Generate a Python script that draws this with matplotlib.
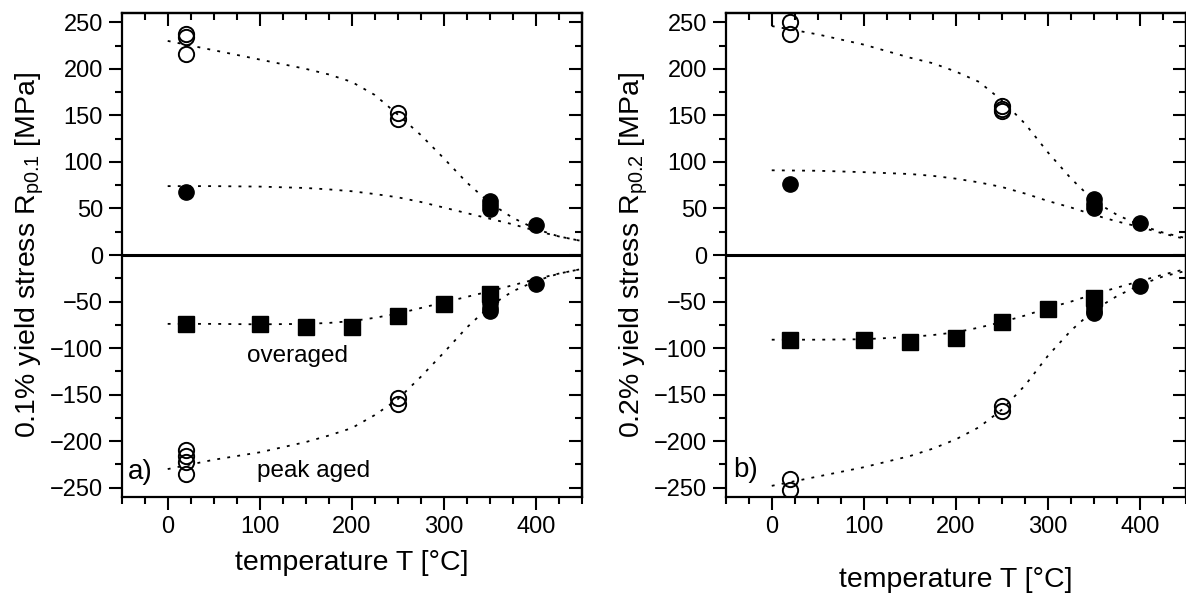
import matplotlib
matplotlib.use("Agg")
import matplotlib.pyplot as plt
from matplotlib.ticker import MultipleLocator

plt.rcParams["font.family"] = ["Liberation Sans", "DejaVu Sans"]
plt.rcParams["mathtext.fontset"] = "custom"
plt.rcParams["mathtext.rm"] = "Liberation Sans"
plt.rcParams["mathtext.it"] = "Liberation Sans:italic"

# ---------------------------------------------------------------------------
# Data (temperature in degC, stress in MPa)
# ---------------------------------------------------------------------------

# panel a) Rp0.1
a_peak_T = [20, 20, 20, 250, 250, 20, 20, 20, 20, 250, 250]
a_peak_R = [237, 234, 216, 153, 146, -209, -216, -222, -235, -154, -160]
a_over_circ_T = [20, 350, 350, 350, 400, 350, 350, 350, 400]
a_over_circ_R = [68, 58, 54, 49, 32, -52, -57, -60, -31]
a_over_sq_T = [20, 100, 150, 200, 250, 300, 350]
a_over_sq_R = [-74, -74, -77.5, -77.5, -65, -53, -42]

# panel b) Rp0.2
b_peak_T = [20, 20, 250, 250, 250, 20, 20, 250, 250]
b_peak_R = [250, 237, 160, 157, 155, -241, -253, -162, -168]
b_over_circ_T = [20, 350, 350, 350, 400, 350, 350, 350, 400]
b_over_circ_R = [76, 60, 55, 51, 34, -56, -60, -62, -33]
b_over_sq_T = [20, 100, 150, 200, 250, 300, 350]
b_over_sq_R = [-91, -91, -93, -89, -72.5, -58, -46]

fit_T = [0, 50, 100, 150, 175, 200, 225, 250, 275, 300, 325, 350, 375, 400, 425, 450]
a_fit_peak_ten = [230, 220, 210, 200, 194, 186, 172, 151, 129, 104, 78, 56, 40, 28, 20, 15]
a_fit_over_ten = [74, 74, 73.5, 72, 70.5, 68.5, 65.5, 62, 57, 51, 45, 39, 33, 26, 20, 15]
a_fit_over_com = [-74, -74, -74.5, -74, -73, -71, -67.5, -63, -57, -51, -45, -39, -32.5, -26, -20, -15]
a_fit_peak_com = [-230, -220, -212, -201, -194, -186, -172, -155, -131, -105, -78, -55, -39, -28, -20, -15]

b_fit_peak_ten = [246, 237, 226, 212, 206, 197, 186, 166, 141, 110, 82, 58, 43, 32, 24, 18]
b_fit_over_ten = [91, 90.5, 89, 87, 85, 82, 78, 73, 66, 58, 51, 43, 36, 30, 23, 17]
b_fit_over_com = [-91, -91, -90.5, -88, -86, -83, -78, -72, -65, -57, -50, -42, -35, -28, -21, -15]
b_fit_peak_com = [-248, -238, -228, -216, -208, -198, -185, -166, -140, -108, -81, -59, -44, -32, -23, -17]

# ---------------------------------------------------------------------------
# Figure
# ---------------------------------------------------------------------------

W, H = 1186, 595
fig = plt.figure(figsize=(W / 100, H / 100), dpi=100)
ax_a = fig.add_axes([121.7 / W, 1 - 497 / H, 460 / W, 484 / H])
ax_b = fig.add_axes([725.7 / W, 1 - 497 / H, 460.6 / W, 484 / H])

DOT = (0, (1.6, 4.0))
MS = 11


def draw_panel(ax, peak_T, peak_R, circ_T, circ_R, sq_T, sq_R, fits, ylabel, xlabelpad):
    ax.axhline(0, color="black", linewidth=2.2, zorder=1)
    for f in fits:
        ax.plot(fit_T, f, color="black", linestyle=DOT, linewidth=1.3, zorder=2)
    ax.plot(sq_T, sq_R, linestyle="none", marker="s", markersize=MS,
            color="black", zorder=3)
    ax.plot(circ_T, circ_R, linestyle="none", marker="o", markersize=MS,
            color="black", zorder=3)
    ax.plot(peak_T, peak_R, linestyle="none", marker="o", markersize=MS,
            markerfacecolor="none", markeredgecolor="black",
            markeredgewidth=1.4, zorder=3)

    ax.set_xlim(-50, 450)
    ax.set_ylim(-260, 260)
    ax.xaxis.set_major_locator(MultipleLocator(100))
    ax.xaxis.set_minor_locator(MultipleLocator(25))
    ax.yaxis.set_major_locator(MultipleLocator(50))
    ax.yaxis.set_minor_locator(MultipleLocator(25))
    ax.tick_params(which="major", direction="out", length=9.5, width=1.5,
                   labelsize=17, pad=4)
    ax.tick_params(which="minor", direction="out", length=5, width=1.5)
    for s in ax.spines.values():
        s.set_linewidth(1.6)

    # inward ticks on the top and right sides
    top = ax.secondary_xaxis("top")
    top.xaxis.set_major_locator(MultipleLocator(100))
    top.xaxis.set_minor_locator(MultipleLocator(25))
    top.tick_params(which="major", direction="in", length=9.5, width=1.5,
                    labeltop=False)
    top.tick_params(which="minor", direction="in", length=5, width=1.5)
    top.spines["top"].set_linewidth(1.6)
    right = ax.secondary_yaxis("right")
    right.yaxis.set_major_locator(MultipleLocator(50))
    right.yaxis.set_minor_locator(MultipleLocator(25))
    right.tick_params(which="major", direction="in", length=9.5, width=1.5,
                      labelright=False)
    right.tick_params(which="minor", direction="in", length=5, width=1.5)
    right.spines["right"].set_linewidth(1.6)

    ax.set_xlabel("temperature T [°C]", fontsize=20.5, labelpad=xlabelpad)
    ax.set_ylabel(ylabel, fontsize=20.5, labelpad=3)


draw_panel(ax_a, a_peak_T, a_peak_R, a_over_circ_T, a_over_circ_R,
           a_over_sq_T, a_over_sq_R,
           [a_fit_peak_ten, a_fit_over_ten, a_fit_over_com, a_fit_peak_com],
           r"0.1% yield stress R$_{\mathrm{p0.1}}$ [MPa]", 9)
draw_panel(ax_b, b_peak_T, b_peak_R, b_over_circ_T, b_over_circ_R,
           b_over_sq_T, b_over_sq_R,
           [b_fit_peak_ten, b_fit_over_ten, b_fit_over_com, b_fit_peak_com],
           r"0.2% yield stress R$_{\mathrm{p0.2}}$ [MPa]", 21)

ax_a.text(141, -109, "overaged", fontsize=17.5, ha="center", va="center")
ax_a.text(159, -232, "peak aged", fontsize=17.5, ha="center", va="center")
ax_a.text(-43, -233, "a)", fontsize=20, ha="left", va="center")
ax_b.text(-42, -231, "b)", fontsize=20, ha="left", va="center")

fig.savefig("out.png", dpi=100)
